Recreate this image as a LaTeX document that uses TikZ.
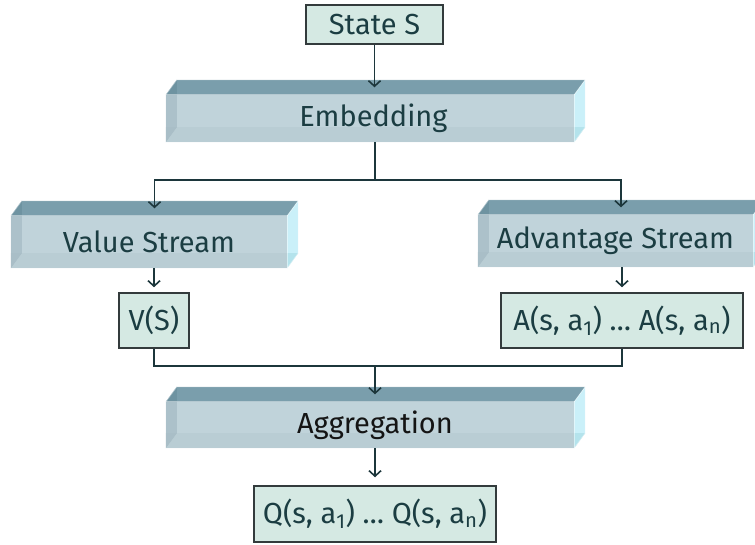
\documentclass[tikz,border=0pt]{standalone}
\usepackage{fontspec}
\setmainfont{Fira Sans}
\usetikzlibrary{calc,arrows.meta}
\pgfdeclarelayer{background}
\pgfsetlayers{background,main}
\definecolor{textc}{HTML}{1B3D42}
\definecolor{frontc}{HTML}{C0D3DA}
\definecolor{leftc}{HTML}{ACC1CA}
\definecolor{bottomc}{HTML}{B9CDD4}
\definecolor{cornerc}{HTML}{A9BEC7}
\definecolor{topc}{HTML}{7A9EAC}
\definecolor{topdark}{HTML}{6E93A1}
\definecolor{rightc}{HTML}{CAF0F9}
\definecolor{rightlow}{HTML}{B4E3EC}
\definecolor{boxfill}{HTML}{D5E9E3}
\definecolor{boxline}{HTML}{333B3C}
\definecolor{linec}{HTML}{1C363B}
\tikzset{
  txt/.style={text=textc, font=\fontsize{29}{33}\selectfont},
  prism/.style={txt, inner sep=0pt},
  valbox/.style={txt, draw=boxline, line width=1.5pt, fill=boxfill, inner sep=0pt},
  conn/.style={draw=linec, line width=1.8pt},
  arr/.style={conn, -{Straight Barb[length=5.5pt,width=12pt,line width=1.6pt]}},
  edgel/.style={draw=white, draw opacity=0.45, line width=0.8pt}
}
\newcommand\prismbox[5]{%
  \node[prism, minimum width=#3, minimum height=#4] (#1) at (#2) {#5};
  \coordinate (#1-top) at ($(#1.north)+(5.5,-7.5)$);
  \begin{pgfonlayer}{background}
    \fill[frontc] (#1.south west) rectangle (#1.north east);
    \fill[leftc] (#1.north west) -- ++(11,-15) -- ($(#1.south west)+(11,-15)$) -- (#1.south west) -- cycle;
    \fill[bottomc] (#1.south west) -- (#1.south east) -- ($(#1.south east)+(11,-15)$) -- ($(#1.south west)+(11,-15)$) -- cycle;
    \fill[cornerc] (#1.south west) -- ($(#1.south west)+(11,-15)$) -- ($(#1.south west)+(0,-15)$) -- cycle;
    \fill[topc] (#1.north west) -- ++(11,-15) -- ($(#1.north east)+(11,-15)$) -- (#1.north east) -- cycle;
    \fill[topdark] (#1.north west) -- ++(11,-15) -- ++(0,15) -- cycle;
    \fill[rightc] (#1.north east) -- ++(11,-15) -- ($(#1.south east)+(11,-15)$) -- (#1.south east) -- cycle;
    \fill[rightlow] (#1.south east) -- ++(11,-15) -- ++(-11,0) -- cycle;
    \draw[edgel] (#1.south west) rectangle (#1.north east);
    \draw[edgel] (#1.north west) -- ++(11,-15) -- ($(#1.north east)+(11,-15)$) -- (#1.north east);
    \draw[edgel] ($(#1.north east)+(11,-15)$) -- ($(#1.south east)+(11,-15)$) -- (#1.south east);
  \end{pgfonlayer}%
}
\begin{document}
\begin{tikzpicture}[x=1pt,y=-1pt]
\useasboundingbox (0,0) rectangle (755,545);
\clip (0,0) rectangle (755,545);
% boxes
\node[valbox, minimum width=137, minimum height=39] (state) at (374.5,24.5) {State S};
\prismbox{emb}{370,118.5}{408}{47}{\hspace*{7pt}Embedding}
\prismbox{vs}{149,242}{276}{52}{Value Stream}
\prismbox{as}{615.5,241}{275}{52}{Advantage Stream}
\node[valbox, minimum width=70, minimum height=55] (vbox) at (154,320.5) {V(S)};
\node[valbox, minimum width=242, minimum height=55] (abox) at (622,320.5) {A(s, a\textsubscript{1}) … A(s, a\textsubscript{n})};
\prismbox{agg}{370,425}{408}{46}{\hspace*{10pt}\textcolor{black!92}{Aggregation}}
\node[valbox, minimum width=242, minimum height=56] (qbox) at (375,514) {Q(s, a\textsubscript{1}) … Q(s, a\textsubscript{n})};
% connectors
\coordinate (j1) at (375,180);
\coordinate (j2) at (375,366);
\draw[arr] (state.south) -- (state.south |- emb-top);
\draw[conn] (emb.south -| j1) -- (j1);
\draw[arr] (j1) -| (vs-top);
\draw[arr] (j1) -| (as-top);
\draw[arr, shorten >=5pt] (vbox.north |- vs.south) -- (vbox.north);
\draw[arr, shorten >=5pt] (abox.north |- as.south) -- (abox.north);
\draw[conn] (vbox.south) |- (j2);
\draw[conn] (abox.south) |- (j2);
\draw[arr] (j2) -- (j2 |- agg-top);
\draw[arr, shorten >=8pt] (qbox.north |- agg.south) -- (qbox.north);
\end{tikzpicture}
\end{document}
